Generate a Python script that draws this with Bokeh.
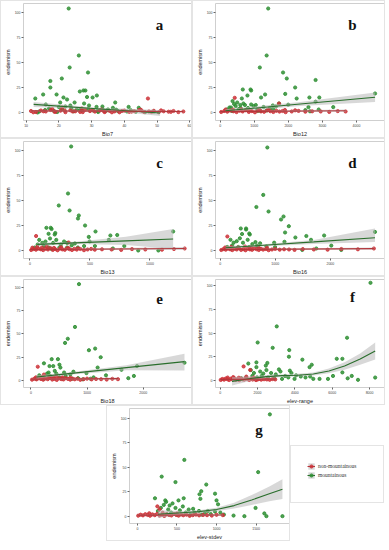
from bokeh.plotting import figure
from bokeh.layouts import column, row
from bokeh.models import Range1d, FixedTicker, Legend, LegendItem, Spacer, Label
from bokeh.embed import file_html
from bokeh.resources import INLINE

GREEN = "#2f8f34"
RED = "#cc3338"
GLINE = "#2a6e2c"
RLINE = "#b2353a"
BAND = "#b8b8b8"

y_ticks = [0, 25, 50, 75, 100]
legend_labels = ["non-mountainous", "mountainous"]

# ---------------- panel a : Bio7 ----------------
a_gx = [23.0, 26.1, 23.3, 28.9, 20.9, 17.4, 17.4, 27.5, 28.1, 26.4, 15.2, 19.3, 31.6, 30.3, 28.6, 21.4, 12.8, 22.5, 20.4, 24.8,
        37.2, 27.7, 16.0, 23.5, 29.2, 31.5, 41.3, 44.4, 33.3, 36.5,
        14.0, 15.8, 18.5, 21.0, 23.8, 26.5, 29.0, 31.8, 33.5, 38.0, 40.8, 43.5, 46.3, 49.0, 19.5, 24.5, 27.0, 35.0, 32.0, 17.0,
        22.0, 25.5, 30.5, 34.5, 13.5, 37.5, 42.0, 20.0]
a_gy = [104, 57, 45, 40, 34, 31.5, 25, 22, 22, 21, 18, 18, 17, 15, 15.5, 15, 14, 13, 10, 10,
        10, 9, 8, 7, 7, 5.6, 5.6, 4.7, 6, 4.7,
        1, 2.5, 1.5, 3.5, 4.5, 2.5, 3.5, 1.5, 2.5, 1.5, 1, 0.8, 0.3, 1, 0.5, 1.2, 2, 3, 0.5, 4,
        6, 3, 2, 1.8, 0, 2.8, 2.2, 5.5]
a_rx = [11.5, 13.0, 14.5, 16.0, 17.5, 19.0, 20.5, 22.0, 23.5, 25.0, 26.5, 28.0, 29.5, 31.0, 32.5, 34.0, 35.5, 37.0, 38.5, 40.0,
        41.5, 43.0, 44.5, 46.0, 47.5, 49.0, 50.5, 52.0, 53.5, 55.0, 56.5, 58.0, 47.2, 21.0, 27.0, 18.0, 33.0, 45.0,
        12.2, 15.3, 18.7, 21.8, 24.2, 27.3, 30.2, 33.8, 36.2, 39.3, 42.2, 45.3, 48.3, 51.2, 54.2]
a_ry = [1.5, 0.5, 2.0, 1.0, 2.5, 0.8, 1.8, 0.3, 2.2, 1.2, 0.6, 2.8, 1.4, 0.9, 2.0, 0.4, 1.6, 1.1, 0.2, 1.9,
        0.7, 1.3, 2.4, 0.5, 1.0, 1.7, 0.3, 1.2, 0.8, 1.5, 0.4, 1.0, 14, 5, 4, 3.5, 3, 2.8,
        0.2, 1.2, 0.6, 2.0, 1.0, 0.4, 2.4, 1.1, 0.2, 1.6, 0.9, 1.8, 0.5, 2.1, 0.7]
a_gfit_x = [12.3, 31.6, 50.9]
a_gfit_y = [8.1, 3.8, -0.5]
a_gfit_lo = [5.6, 2.9, -3.5]
a_gfit_hi = [10.6, 4.7, 2.5]
a_rfit_x = [11.5, 58.0]
a_rfit_y = [1.6, 1.0]
a_rfit_lo = [0.9, 0.2]
a_rfit_hi = [2.3, 1.8]

# ---------------- panel b : Bio12 ----------------
b_gx = [1409, 1364, 1164, 1845, 1955, 2800, 2200, 664, 891, 909, 1909, 1318, 800, 1200, 2618, 2909, 4545, 2245, 364, 2800,
        636, 1727, 1997, 3318, 2591, 2891, 2636, 2500,
        273, 455, 545, 727, 818, 982, 1091, 1273, 1364, 1545, 1636, 200, 318, 409, 500, 591, 682, 909, 1045, 1455,
        1182, 750, 1100, 1550, 350, 600]
b_gy = [104, 57, 45, 40, 34, 32.5, 25, 23, 23, 22, 18.6, 18, 17, 15, 15, 15, 19, 14, 11.4, 10.8,
        14, 9, 7.8, 5.4, 5.4, 3, 1.2, 2.4,
        5, 6.5, 3.5, 7.5, 4.5, 6.5, 3, 5.5, 2, 7, 6, 3, 5, 8.5, 10, 7.5, 9, 8, 7.5, 4.5,
        1.5, 2.5, 1.5, 3.5, 1.5, 4.5]
b_rx = [30, 120, 210, 300, 390, 480, 570, 660, 750, 840, 930, 1020, 1110, 1200, 1290, 1380, 1470, 1560, 1650, 1740,
        1830, 1920, 2100, 2300, 2500, 2700, 2950, 3200, 3450, 3680, 427, 1727, 160, 380, 620, 880, 1150, 1420, 1900, 2200]
b_ry = [0.5, 1.5, 0.8, 2.0, 1.2, 0.4, 1.8, 1.0, 2.4, 0.6, 1.4, 0.2, 1.9, 1.1, 0.7, 2.2, 1.3, 0.5, 1.7, 0.9,
        1.5, 0.3, 1.0, 1.6, 0.8, 1.2, 1.0, 0.6, 1.4, 1.0, 14.7, 9, 3, 2.8, 3.2, 2.5, 3, 2.6, 2.5, 2.2]
b_gfit_x = [150, 2350, 4545]
b_gfit_y = [1.7, 8.5, 15.3]
b_gfit_lo = [0.2, 6.5, 10.5]
b_gfit_hi = [3.2, 10.5, 20.0]
b_rfit_x = [0, 3682]
b_rfit_y = [0.9, 1.8]
b_rfit_lo = [0.5, 0.6]
b_rfit_hi = [1.3, 3.0]

# ---------------- panel c : Bio13 ----------------
c_gx = [343, 317, 240, 330, 407, 400, 459, 546, 137, 173, 180, 211, 206, 155, 670, 727, 1193, 657, 490, 497,
        786, 691, 902, 1070, 541,
        77, 103, 129, 167, 193, 219, 258, 284, 309, 348, 374, 39, 64, 116, 155, 245, 309, 399, 451, 180]
c_gy = [104, 57, 45, 40, 35, 32, 25, 19, 22.7, 22.7, 21.5, 17.5, 16, 16.7, 15, 15.5, 19, 10.6, 13.6, 9,
        4.5, 2, 0, 0, 4.5,
        10.6, 7.6, 9, 12, 7.6, 10.6, 6, 9, 7.6, 5.2, 7, 3, 6, 4.5, 3, 3, 3, 3, 4.5, 1.5]
c_rx = [10, 30, 50, 70, 90, 110, 130, 150, 170, 190, 210, 230, 250, 270, 290, 310, 330, 350, 370, 390,
        420, 450, 480, 510, 540, 600, 680, 760, 850, 961, 1100, 1200, 1289, 51, 20, 60, 100, 140, 200, 260,
        320, 400, 322]
c_ry = [0.5, 1.5, 0.8, 2.0, 1.2, 0.4, 1.8, 1.0, 2.4, 0.6, 1.4, 0.2, 1.9, 1.1, 0.7, 2.2, 1.3, 0.5, 1.7, 0.9,
        1.5, 0.3, 1.0, 1.6, 0.8, 1.2, 1.0, 0.6, 1.4, 1.0, 0.8, 1.5, 2.0, 14.5, 2.8, 3.5, 3, 4, 2.6, 3.2,
        2.5, 2.2, 8]
c_gfit_x = [60, 374, 800, 1193]
c_gfit_y = [6.1, 7.6, 9.6, 11.5]
c_gfit_lo = [4.5, 6.5, 5.5, 1.5]
c_gfit_hi = [7.7, 8.7, 13.7, 21.5]
c_rfit_x = [0, 1289]
c_rfit_y = [0.9, 2.0]
c_rfit_lo = [0.5, 0.5]
c_rfit_hi = [1.3, 3.5]

# ---------------- panel d : Bio16 ----------------
d_gx = [856, 782, 657, 878, 1150, 1105, 1246, 1178, 374, 470, 470, 527, 538, 397, 1365, 1564, 1887, 2810, 1649, 980,
        1167, 997, 1745, 2017, 2198, 1490,
        187, 244, 300, 357, 414, 499, 584, 640, 669, 725, 130, 215, 329, 527, 697, 839]
d_gy = [103, 55.6, 43.5, 39, 34, 31, 24.3, 18, 22, 22, 21, 17, 16, 16.5, 13, 14.5, 15, 18.6, 10.7, 7.8,
        8.7, 3.5, 2, 4.9, 0.6, 0.6,
        10.7, 7.8, 9.3, 12.2, 7.8, 10.7, 6.4, 8.4, 4.9, 7.2, 3.5, 4.9, 3.5, 3.5, 2.9, 4.1]
d_rx = [20, 60, 100, 140, 180, 220, 260, 300, 340, 380, 420, 460, 500, 540, 580, 620, 660, 700, 740, 780,
        830, 880, 940, 1000, 1080, 1160, 1250, 1350, 1500, 1700, 1950, 2200, 2500, 2790, 130, 90, 200, 320, 450, 560,
        700, 850]
d_ry = [0.5, 1.5, 0.8, 2.0, 1.2, 0.4, 1.8, 1.0, 2.4, 0.6, 1.4, 0.2, 1.9, 1.1, 0.7, 2.2, 1.3, 0.5, 1.7, 0.9,
        1.5, 0.3, 1.0, 1.6, 0.8, 1.2, 1.0, 0.6, 1.4, 1.0, 0.8, 1.5, 1.2, 2.0, 14, 3, 3.5, 2.8, 4, 3,
        2.5, 2.6]
d_gfit_x = [100, 725, 1700, 2810]
d_gfit_y = [2.7, 5.0, 8.6, 12.8]
d_gfit_lo = [1.2, 4.0, 6.6, 8.4]
d_gfit_hi = [4.2, 6.0, 10.6, 22.0]
d_rfit_x = [0, 2790]
d_rfit_y = [0.9, 1.9]
d_rfit_lo = [0.5, 0.7]
d_rfit_hi = [1.3, 3.1]

# ---------------- panel e : Bio18 ----------------
e_gx = [856, 785, 657, 608, 1033, 1144, 1243, 1188, 370, 481, 232, 398, 331, 508, 525, 1613, 1890, 2735, 989, 1337,
        1834, 1735, 757,
        702, 619, 591, 453, 343, 287, 204, 149, 94, 232, 398, 508, 564, 729, 840, 923, 1116, 1061, 425, 315]
e_gy = [104, 57.6, 44.8, 40.3, 32.4, 34.2, 24.8, 13.6, 22.7, 22.7, 18.2, 15.2, 15.2, 16.7, 13.6, 11.2, 15.2, 18.8, 7.6, 5.2,
        4.5, 2.1, 9.1,
        6.1, 4.5, 8.2, 7, 4.5, 7, 3, 5.2, 1.5, 1.5, 2.1, 3, 1.5, 1.5, 2.1, 0.9, 3, 1.5, 10, 8.2]
e_rx = [20, 60, 100, 140, 180, 220, 260, 300, 340, 380, 420, 460, 500, 540, 580, 620, 660, 700, 740, 780,
        830, 880, 940, 1000, 1080, 1160, 1250, 1350, 1450, 1550, 122, 232, 90, 200, 320, 450, 560, 700, 400]
e_ry = [0.5, 1.5, 0.8, 2.0, 1.2, 0.4, 1.8, 1.0, 2.4, 0.6, 1.4, 0.2, 1.9, 1.1, 0.7, 2.2, 1.3, 0.5, 1.7, 0.9,
        1.5, 0.3, 1.0, 1.6, 0.8, 1.2, 1.0, 0.6, 1.4, 1.0, 14.5, 6, 3, 3.5, 2.8, 4, 3, 2.5, 2.6]
e_gfit_x = [100, 674, 1700, 2735]
e_gfit_y = [3.4, 7.0, 13.5, 20.0]
e_gfit_lo = [1.6, 5.8, 10.8, 10.3]
e_gfit_hi = [5.2, 8.2, 16.2, 28.5]
e_rfit_x = [0, 1558]
e_rfit_y = [1.0, 1.6]
e_rfit_lo = [0.5, 0.3]
e_rfit_hi = [1.5, 2.9]

# ---------------- panel f : elev-range ----------------
f_gx = [8050, 3030, 2008, 2812, 3699, 3682, 6795, 6243, 6544, 4402, 1506, 1941, 2527, 4904, 4787, 1941, 2444, 3146, 3732, 6042,
        6544, 7046, 6828, 7381, 8301, 5322, 5774,
        1640, 1808, 2142, 2310, 2477, 2728, 2979, 3230, 3481, 3816, 4067, 4318, 4569, 4820, 4987, 1724, 1975, 2226, 2561, 2895,
        3314, 3649, 3983, 1389, 1138]
f_gy = [103, 57, 40, 34.4, 32, 25, 45, 22.8, 22.8, 21.9, 17.8, 19, 18.4, 16.5, 14, 14, 15.6, 11.6, 10.3, 4.7,
        8.4, 4.7, 2.2, 0.6, 3, 1.6, 1.6,
        10.9, 7.8, 9.4, 7.2, 10.9, 7.8, 6.3, 9.4, 4.7, 7.8, 5.3, 4.1, 3.1, 4.1, 1.6, 4.7, 3.1, 4.7, 3.1, 2.2,
        1.6, 3.1, 1.6, 3.1, 2.2]
f_rx = [30, 120, 210, 300, 390, 480, 570, 660, 750, 840, 930, 1020, 1110, 1200, 1290, 1380, 1470, 1560, 1650, 1740,
        1830, 1920, 2010, 2100, 2200, 2350, 2500, 2650, 2800, 2950, 1255, 1607, 400, 700, 1000, 1400, 1800]
f_ry = [0.5, 1.5, 0.8, 2.0, 1.2, 0.4, 1.8, 1.0, 2.4, 0.6, 1.4, 0.2, 1.9, 1.1, 0.7, 2.2, 1.3, 0.5, 1.7, 0.9,
        1.5, 0.3, 1.0, 1.6, 0.8, 1.2, 1.0, 0.6, 1.4, 1.0, 14.7, 11, 3, 3.5, 2.8, 4, 3]
f_gfit_x = [636, 1640, 2477, 3314, 4151, 4987, 5824, 6661, 7498, 8301]
f_gfit_y = [-1.0, 2.0, 4.0, 5.0, 5.5, 6.8, 10.0, 15.2, 22.5, 31.0]
f_gfit_lo = [-5.5, -0.5, 2.4, 3.6, 4.1, 5.2, 7.5, 11.2, 16.5, 22.0]
f_gfit_hi = [3.5, 4.5, 5.6, 6.4, 6.9, 8.4, 12.5, 19.2, 28.5, 40.0]
f_rfit_x = [0, 2950]
f_rfit_y = [1.0, 1.3]
f_rfit_lo = [0.6, 0.6]
f_rfit_hi = [1.4, 2.0]

# ---------------- panel g : elev-stdev ----------------
g_gx = [1674, 593, 1526, 307, 481, 870, 807, 785, 981, 222, 352, 363, 585, 519, 1000, 1019, 796, 444, 407, 704,
        1493, 1604, 1630, 1833, 1352, 1215, 1048, 889,
        259, 296, 333, 389, 426, 481, 537, 574, 611, 648, 722, 778, 852, 926, 981, 1093, 370, 500, 667, 815]
g_gy = [104, 57.5, 45, 40.4, 34.8, 32.3, 25.5, 22.4, 23, 18.3, 16.1, 14.6, 18.3, 16.1, 16.1, 12.1, 17.7, 13, 10.9, 7.5,
        8.4, 2.8, 0, 0, 0, 0.6, 3.7, 5.3,
        5.3, 8.4, 11.5, 6.8, 3.7, 8.4, 5.9, 9.9, 3.7, 6.8, 3.7, 5.3, 2.8, 2.2, 4.7, 1.6, 2.2, 1.6, 1.6, 1.6]
g_rx = [10, 40, 70, 100, 130, 160, 190, 220, 250, 280, 310, 340, 370, 400, 430, 460, 490, 520, 550, 580,
        620, 660, 700, 740, 780, 830, 880, 940, 1000, 1080, 252, 280, 150, 320, 500]
g_ry = [0.5, 1.5, 0.8, 2.0, 1.2, 0.4, 1.8, 1.0, 2.4, 0.6, 1.4, 0.2, 1.9, 1.1, 0.7, 2.2, 1.3, 0.5, 1.7, 0.9,
        1.5, 0.3, 1.0, 1.6, 0.8, 1.2, 1.0, 0.6, 1.4, 1.0, 10, 7, 3, 3.5, 2.8]
g_gfit_x = [259, 556, 778, 1000, 1222, 1444, 1667, 1833]
g_gfit_y = [2.0, 3.5, 4.6, 6.8, 10.8, 16.5, 22.8, 27.6]
g_gfit_lo = [-2.0, 1.7, 3.1, 5.0, 7.8, 11.5, 15.3, 17.6]
g_gfit_hi = [6.0, 5.3, 6.1, 8.6, 13.8, 21.5, 30.3, 37.6]
g_rfit_x = [0, 1080]
g_rfit_y = [1.0, 1.2]
g_rfit_lo = [0.6, 0.5]
g_rfit_hi = [1.4, 1.9]

PT = 3.2


def draw_series(p, x, y, fx, fy, flo, fhi, pc, lc, visible=True):
    pts = p.scatter(x, y, size=PT, fill_color=pc, line_color=pc, fill_alpha=0.85, line_alpha=0.85, visible=visible)
    band = p.varea(x=fx, y1=flo, y2=fhi, fill_color=BAND, fill_alpha=0.55, visible=visible)
    ln = p.line(fx, fy, line_color=lc, line_width=1.1, visible=visible)
    return pts, band, ln


def make_panel(letter, xlabel, xr, yr, xticks, gx, gy, rx, ry,
               gfx, gfy, gflo, gfhi, rfx, rfy, rflo, rfhi, w, h):
    p = figure(width=w, height=h, x_range=Range1d(*xr), y_range=Range1d(*yr),
               output_backend="svg", toolbar_location=None,
               min_border_left=2, min_border_right=2, min_border_top=2, min_border_bottom=2)
    p.xgrid.grid_line_color = None
    p.ygrid.grid_line_color = None
    p.outline_line_color = "#cfcfcf"
    p.xaxis.ticker = FixedTicker(ticks=xticks)
    p.yaxis.ticker = FixedTicker(ticks=y_ticks)
    p.xaxis.axis_label = xlabel
    p.yaxis.axis_label = "endemism"
    for ax in (p.xaxis[0], p.yaxis[0]):
        ax.axis_line_color = None
        ax.major_tick_line_color = "#666666"
        ax.major_tick_out = 2
        ax.major_tick_in = 0
        ax.minor_tick_line_color = None
        ax.major_label_text_font = "Liberation Sans"
        ax.major_label_text_font_size = "3.5px"
        ax.major_label_text_color = "#444444"
        ax.major_label_standoff = 1
        ax.axis_label_text_font = "Liberation Sans"
        ax.axis_label_text_font_size = "5.5px"
        ax.axis_label_text_font_style = "normal"
        ax.axis_label_text_color = "#222222"
        ax.axis_label_standoff = 1

    g_pts = p.scatter(gx, gy, size=PT, fill_color=GREEN, line_color=GREEN, fill_alpha=0.85, line_alpha=0.85)
    r_pts = p.scatter(rx, ry, size=PT, fill_color=RED, line_color=RED, fill_alpha=0.85, line_alpha=0.85)
    p.varea(x=gfx, y1=gflo, y2=gfhi, fill_color=BAND, fill_alpha=0.55)
    p.varea(x=rfx, y1=rflo, y2=rfhi, fill_color=BAND, fill_alpha=0.55)
    p.line(gfx, gfy, line_color=GLINE, line_width=1.1)
    p.line(rfx, rfy, line_color=RLINE, line_width=1.1)

    p.add_layout(Label(x=xr[0] + 0.81 * (xr[1] - xr[0]), y=88, text=letter,
                       text_font="Liberation Serif", text_font_style="bold",
                       text_font_size="15px", text_align="center", text_baseline="middle",
                       text_color="#111111"))
    p.styles = {"border": "1px solid #e4e4e4"}
    return p


def make_legend(w, h):
    # legend panel: the keys are drawn from the panel-g series (renderers hidden, keys shown)
    p = figure(width=w, height=h, x_range=Range1d(0, 1), y_range=Range1d(0, 1),
               output_backend="svg", toolbar_location=None,
               min_border_left=0, min_border_right=0, min_border_top=0, min_border_bottom=0)
    p.axis.visible = False
    p.xgrid.grid_line_color = None
    p.ygrid.grid_line_color = None
    p.outline_line_color = None
    r_pts, r_band, r_ln = draw_series(p, g_rx, g_ry, g_rfit_x, g_rfit_y, g_rfit_lo, g_rfit_hi, RED, RLINE, False)
    g_pts, g_band, g_ln = draw_series(p, g_gx, g_gy, g_gfit_x, g_gfit_y, g_gfit_lo, g_gfit_hi, GREEN, GLINE, False)
    items = [LegendItem(label=legend_labels[0], renderers=[r_band, r_ln, r_pts]),
             LegendItem(label=legend_labels[1], renderers=[g_band, g_ln, g_pts])]
    leg = Legend(items=items, location="top_left")
    leg.label_text_font = "Liberation Serif"
    leg.label_text_font_size = "5.5px"
    leg.label_text_color = "#333333"
    leg.glyph_width = 8
    leg.glyph_height = 8
    leg.label_height = 8
    leg.label_standoff = 3
    leg.spacing = 1
    leg.padding = 0
    leg.margin = 16
    leg.border_line_color = None
    leg.background_fill_alpha = 0
    leg.inactive_fill_alpha = 0
    p.add_layout(leg)
    p.styles = {"border": "1px solid #e4e4e4"}
    return p


YR = (-8, 109)
pa = make_panel("a", "Bio7", (9.2, 60.5), YR, [10, 20, 30, 40, 50, 60], a_gx, a_gy, a_rx, a_ry,
                a_gfit_x, a_gfit_y, a_gfit_lo, a_gfit_hi, a_rfit_x, a_rfit_y, a_rfit_lo, a_rfit_hi, 192, 138)
pb = make_panel("b", "Bio12", (-137, 4822), YR, [0, 1000, 2000, 3000, 4000], b_gx, b_gy, b_rx, b_ry,
                b_gfit_x, b_gfit_y, b_gfit_lo, b_gfit_hi, b_rfit_x, b_rfit_y, b_rfit_lo, b_rfit_hi, 193, 138)
pc = make_panel("c", "Bio13", (-54, 1346), YR, [0, 500, 1000], c_gx, c_gy, c_rx, c_ry,
                c_gfit_x, c_gfit_y, c_gfit_lo, c_gfit_hi, c_rfit_x, c_rfit_y, c_rfit_lo, c_rfit_hi, 192, 138)
pd_ = make_panel("d", "Bio16", (-85, 2983), YR, [0, 1000, 2000], d_gx, d_gy, d_rx, d_ry,
                 d_gfit_x, d_gfit_y, d_gfit_lo, d_gfit_hi, d_rfit_x, d_rfit_y, d_rfit_lo, d_rfit_hi, 193, 138)
pe = make_panel("e", "Bio18", (-132, 2860), YR, [0, 1000, 2000], e_gx, e_gy, e_rx, e_ry,
                e_gfit_x, e_gfit_y, e_gfit_lo, e_gfit_hi, e_rfit_x, e_rfit_y, e_rfit_lo, e_rfit_hi, 192, 129)
pf = make_panel("f", "elev-range", (-250, 8800), (-7.5, 106.5), [0, 2000, 4000, 6000, 8000], f_gx, f_gy, f_rx, f_ry,
                f_gfit_x, f_gfit_y, f_gfit_lo, f_gfit_hi, f_rfit_x, f_rfit_y, f_rfit_lo, f_rfit_hi, 193, 129)
pg = make_panel("g", "elev-stdev", (-100, 1922), (-7.5, 110), [0, 500, 1000, 1500], g_gx, g_gy, g_rx, g_ry,
                g_gfit_x, g_gfit_y, g_gfit_lo, g_gfit_hi, g_rfit_x, g_rfit_y, g_rfit_lo, g_rfit_hi, 184, 136)
pl = make_legend(94, 58)

layout = column(row(pa, pb, spacing=0), row(pc, pd_, spacing=0), row(pe, pf, spacing=0),
                row(Spacer(width=106, height=136), pg,
                    column(Spacer(width=94, height=40), pl, spacing=0), spacing=0), spacing=0)

open("out.html", "w").write(file_html(layout, INLINE))
